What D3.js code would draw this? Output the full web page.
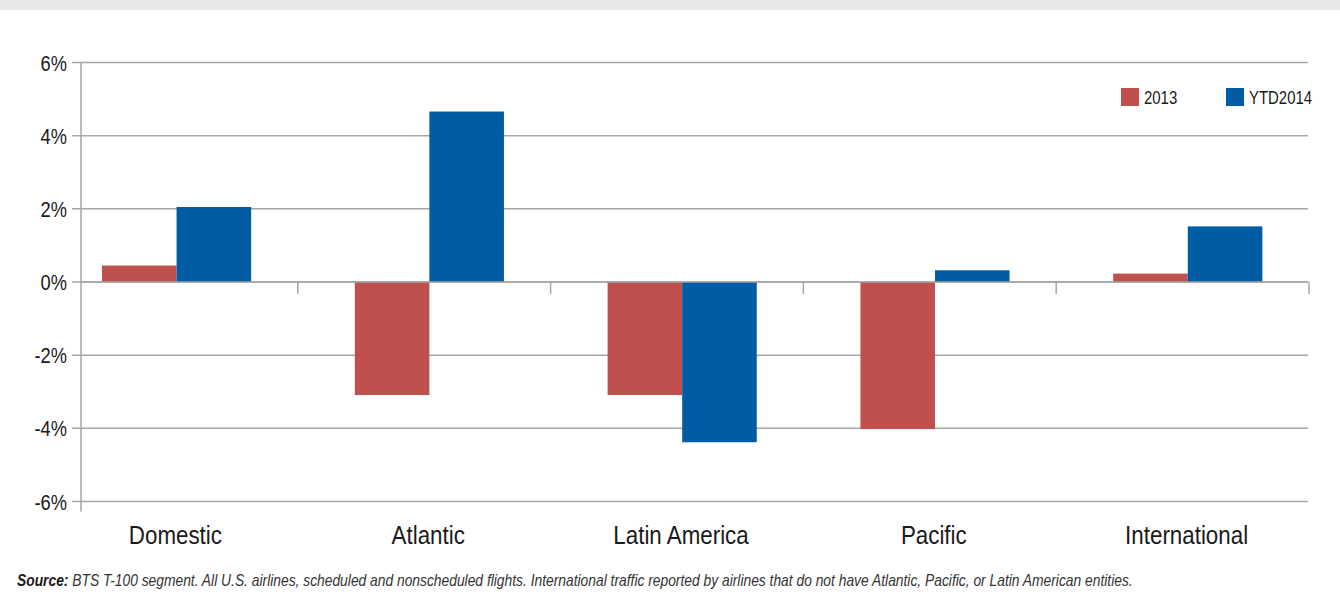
<!DOCTYPE html>
<html>
<head>
<meta charset="utf-8">
<script src="https://cdn.jsdelivr.net/npm/d3@7"></script>
<style>
  body { margin: 0; background: #fff; }
  text { font-family: "Liberation Sans", Arial, sans-serif; fill: #1a1a1a; }
</style>
</head>
<body>
<div id="chart"></div>
<script>
// data
var categories = ["Domestic", "Atlantic", "Latin America", "Pacific", "International"];
var seriesNames = ["2013", "YTD2014"];
var values2013 = [0.45, -3.09, -3.09, -4.02, 0.23];
var valuesYTD2014 = [2.05, 4.66, -4.38, 0.32, 1.52];
var yTicks = [-6, -4, -2, 0, 2, 4, 6];
var colors = ["#c0504d", "#005ca3"];

var W = 1340, H = 602;
var plot = {left: 81, right: 1308, top: 62.5, bottom: 501.5};
var narrow = 0.83; // the original uses a condensed face, squeeze the text

var data = categories.map(function(c, i) {
  return {cat: c, vals: [values2013[i], valuesYTD2014[i]]};
});

var svg = d3.select("#chart")
  .append("svg")
    .attr("width", W)
    .attr("height", H);

// grey band on top
svg.append("rect")
  .attr("x", 0).attr("y", 0)
  .attr("width", W).attr("height", 10)
  .attr("fill", "#e6e7e8");

var y = d3.scaleLinear()
  .domain([-6, 6])
  .range([plot.bottom, plot.top]);

var x0 = d3.scaleBand()
  .domain(categories)
  .range([45, plot.right + 1])
  .padding(0);

var x1 = d3.scaleBand()
  .domain(seriesNames)
  .range([0, x0.bandwidth()])
  .paddingInner(0)
  .paddingOuter(0.695)
  .align(0.55);

// gridlines
svg.append("g")
  .selectAll("line")
  .data(yTicks)
  .enter()
  .append("line")
    .attr("x1", plot.left - 9)
    .attr("x2", plot.right)
    .attr("y1", function(d) { return y(d); })
    .attr("y2", function(d) { return y(d); })
    .attr("stroke", "#a6a6a6")
    .attr("stroke-width", 1.5);

// y labels
svg.append("g")
  .selectAll("text")
  .data(yTicks)
  .enter()
  .append("text")
    .attr("transform", function(d) { return "translate(" + (plot.left - 14) + "," + (y(d) + 8) + ") scale(" + narrow + ",1)"; })
    .attr("text-anchor", "end")
    .attr("font-size", "22px")
    .text(function(d) { return d + "%"; });

// bars
var groups = svg.selectAll("g.cat")
  .data(data)
  .enter()
  .append("g")
    .attr("class", "cat")
    .attr("transform", function(d) { return "translate(" + x0(d.cat) + ",0)"; });

groups.selectAll("rect")
  .data(function(d) { return d.vals.map(function(v, j) { return {key: seriesNames[j], v: v, j: j}; }); })
  .enter()
  .append("rect")
    .attr("x", function(d) { return x1(d.key); })
    .attr("width", x1.bandwidth())
    .attr("y", function(d) { return y(Math.max(0, d.v)); })
    .attr("height", function(d) { return Math.abs(y(d.v) - y(0)); })
    .attr("fill", function(d) { return colors[d.j]; });

// zero line on top of bars + category ticks
svg.append("line")
  .attr("x1", plot.left).attr("x2", plot.right)
  .attr("y1", y(0)).attr("y2", y(0))
  .attr("stroke", "#a6a6a6")
  .attr("stroke-width", 1.5);

svg.append("g")
  .selectAll("line")
  .data(categories)
  .enter()
  .append("line")
    .attr("x1", function(d) { return x0(d) + x0.bandwidth(); })
    .attr("x2", function(d) { return x0(d) + x0.bandwidth(); })
    .attr("y1", y(0))
    .attr("y2", y(0) + 12)
    .attr("stroke", "#a6a6a6")
    .attr("stroke-width", 1.5);

// vertical axis line
svg.append("line")
  .attr("x1", plot.left).attr("x2", plot.left)
  .attr("y1", plot.top).attr("y2", plot.bottom + 10)
  .attr("stroke", "#a6a6a6")
  .attr("stroke-width", 1.5);

// category labels
svg.append("g")
  .selectAll("text")
  .data(categories)
  .enter()
  .append("text")
    .attr("transform", function(d) { return "translate(" + (x0(d) + x0.bandwidth() / 2 + 4) + ",544) scale(0.86,1)"; })
    .attr("text-anchor", "middle")
    .attr("font-size", "26px")
    .text(function(d) { return d; });

// legend
var legend = svg.append("g")
  .selectAll("g")
  .data(seriesNames)
  .enter()
  .append("g")
    .attr("transform", function(d, i) { return "translate(" + (1121 + i * 105) + ",88)"; });
legend.append("rect")
  .attr("width", 18).attr("height", 18)
  .attr("fill", function(d, i) { return colors[i]; });
legend.append("text")
  .attr("transform", "translate(23,15.5) scale(" + narrow + ",1)")
  .attr("font-size", "18px")
  .text(function(d) { return d; });

// source note
var src = svg.append("text")
  .attr("transform", "translate(17,586) scale(0.865,1)")
  .attr("font-size", "16px")
  .style("font-style", "italic")
  .style("fill", "#333");
src.append("tspan")
  .attr("font-weight", "bold")
  .style("fill", "#1a1a1a")
  .text("Source:");
src.append("tspan")
  .text(" BTS T-100 segment. All U.S. airlines, scheduled and nonscheduled flights. International traffic reported by airlines that do not have Atlantic, Pacific, or Latin American entities.");
</script>
</body>
</html>
